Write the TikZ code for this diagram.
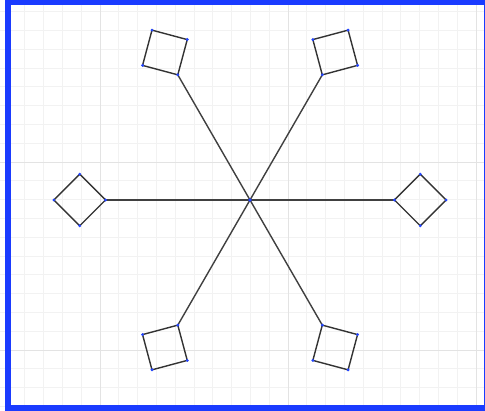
\documentclass[tikz,border=0pt]{standalone}
\usepackage{xcolor}
\usepackage{tikz}
\usetikzlibrary{calc}
\definecolor{framebl}{HTML}{1A3BFF}
\definecolor{dotbl}{HTML}{2244FF}
\definecolor{minorgr}{HTML}{F2F2F2}
\definecolor{majorgr}{HTML}{E3E3E3}

\begin{document}
\begin{tikzpicture}[x=1pt,y=1pt,
        sq/.style={draw=black!80, line width=1.4pt, minimum size=36.5pt, inner sep=0pt, outer sep=0pt},
        spoke/.style={draw=black!75, line width=1.4pt},
        vdot/.style={fill=dotbl}]
        \useasboundingbox (0,0) rectangle (485,411);
        \begin{scope}
        \clip (0,0) rectangle (485,411);
        \fill[white] (0,0) rectangle (485,411);
        % grid
        \draw[minorgr, line width=0.8pt, shift={(6,4.6)}] (-6,-4.6) grid[step=18.8] (479,406.4);
        \draw[majorgr, line width=0.9pt, shift={(100,61)}] (-100,-61) grid[step=188] (385,350);
        % frame
        \draw[framebl, line width=6pt] (8,3) rectangle (487,409);
        \end{scope}
        \coordinate (hub) at (250,211);
        \node[sq, rotate=-45] (e) at (420.3,211) {};
        \node[sq, rotate=15] (ne) at (335.2,358.5) {};
        \node[sq, rotate=75] (nw) at (164.9,358.5) {};
        \node[sq, rotate=135] (w) at (79.7,211) {};
        \node[sq, rotate=195] (sw) at (164.9,63.5) {};
        \node[sq, rotate=255] (se) at (335.2,63.5) {};
        \draw[spoke] (hub) -- (e.south west);
        \draw[spoke] (hub) -- (ne.south west);
        \draw[spoke] (hub) -- (nw.south west);
        \draw[spoke] (hub) -- (w.south west);
        \draw[spoke] (hub) -- (sw.south west);
        \draw[spoke] (hub) -- (se.south west);
        \foreach \n in {e,ne,nw,w,sw,se}
          \foreach \c in {north east,north west,south west,south east}
            \fill[vdot] (\n.\c) circle [radius=1.6];
        \fill[vdot] (hub) circle [radius=1.8];
\end{tikzpicture}
\end{document}
